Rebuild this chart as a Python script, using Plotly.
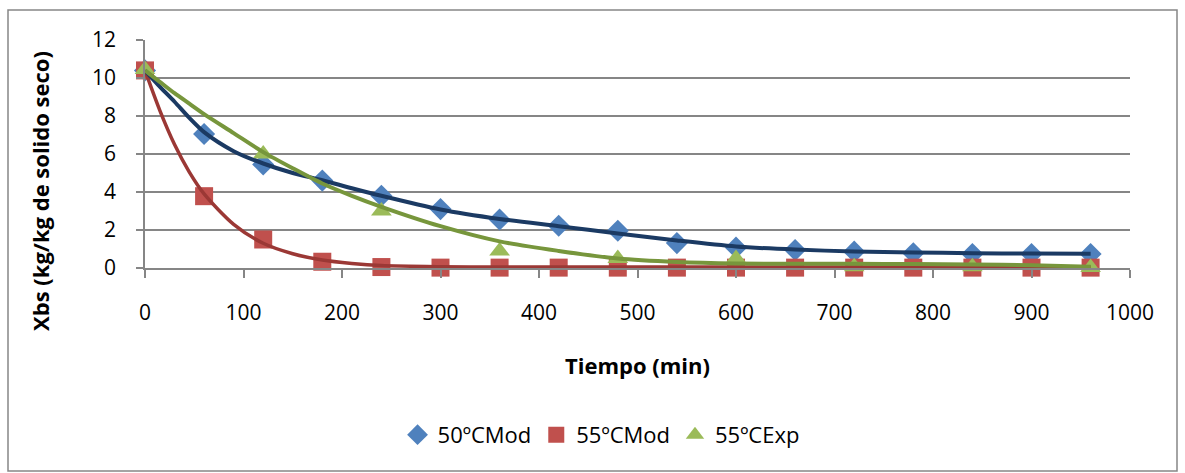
import plotly.graph_objects as go

# ---- data ----
t_pts = [0, 60, 120, 180, 240, 300, 360, 420, 480, 540, 600, 660, 720, 780, 840, 900, 960]
mod50_pts = [10.4, 7.05, 5.45, 4.6, 3.8, 3.1, 2.55, 2.22, 1.96, 1.31, 1.07, 0.95, 0.86, 0.78, 0.74, 0.74, 0.74]
mod55_pts = [10.4, 3.78, 1.5, 0.33, 0.05, 0.02, 0.02, 0.02, 0.02, 0.02, 0.02, 0.02, 0.02, 0.02, 0.02, 0.02, 0.02]
t_exp = [0, 120, 240, 360, 480, 600, 720, 840, 960]
exp55_pts = [10.45, 6.0, 3.0, 0.9, 0.5, 0.5, 0.06, 0.06, 0.02]

t_curve = [0, 15, 30, 45, 60, 90, 120, 150, 180, 210, 240, 300, 360, 420, 480, 540, 600, 660, 720, 780, 840, 900, 960]
mod50_curve = [10.4, 9.55, 8.75, 7.9, 7.15, 6.15, 5.5, 5.0, 4.62, 4.2, 3.8, 3.08, 2.58, 2.2, 1.82, 1.45, 1.13, 0.97, 0.87, 0.82, 0.78, 0.76, 0.75]
mod55_curve = [10.4, 8.3, 6.5, 5.05, 3.9, 2.3, 1.3, 0.75, 0.42, 0.24, 0.13, 0.07, 0.05, 0.05, 0.05, 0.05, 0.05, 0.05, 0.05, 0.05, 0.05, 0.05, 0.05]
exp55_curve = [10.4, 9.8, 9.2, 8.65, 8.1, 7.1, 6.1, 5.25, 4.45, 3.8, 3.22, 2.2, 1.4, 0.9, 0.5, 0.32, 0.24, 0.22, 0.22, 0.21, 0.19, 0.15, 0.07]

names = ["50ºCMod", "55ºCMod", "55ºCExp"]
x_ticks = [0, 100, 200, 300, 400, 500, 600, 700, 800, 900, 1000]
y_ticks = [0, 2, 4, 6, 8, 10, 12]

FONT = "Open Sans"
GRID = "#868686"

fig = go.Figure()

# markers
fig.add_trace(go.Scatter(x=t_pts, y=mod50_pts, mode="markers", name=names[0],
                         marker=dict(symbol="diamond", size=17, color="#4F81BD"), cliponaxis=False))
fig.add_trace(go.Scatter(x=t_pts, y=mod55_pts, mode="markers", name=names[1],
                         marker=dict(symbol="square", size=18, color="#C0504D"), cliponaxis=False))
fig.add_trace(go.Scatter(x=t_exp, y=exp55_pts, mode="markers", name=names[2],
                         marker=dict(symbol="triangle-up", size=18, color="#9BBB59"), cliponaxis=False))

# model curves
fig.add_trace(go.Scatter(x=t_curve, y=mod55_curve, mode="lines", showlegend=False,
                         line=dict(color="#9B3835", width=3.5, shape="spline", smoothing=0.8), cliponaxis=False))
fig.add_trace(go.Scatter(x=t_curve, y=mod50_curve, mode="lines", showlegend=False,
                         line=dict(color="#1B3A63", width=4, shape="spline", smoothing=0.8), cliponaxis=False))
fig.add_trace(go.Scatter(x=t_curve, y=exp55_curve, mode="lines", showlegend=False,
                         line=dict(color="#77963C", width=4, shape="spline", smoothing=0.8), cliponaxis=False))

fig.update_layout(
    width=1185, height=473,
    margin=dict(l=145, r=55, t=40, b=205),
    paper_bgcolor="white", plot_bgcolor="white",
    font=dict(family=FONT, size=21, color="black"),
    showlegend=True,
    legend=dict(orientation="h", x=0.463, xanchor="center", y=-0.732, yanchor="middle",
                font=dict(family=FONT, size=22), itemwidth=30, tracegroupgap=0),
    xaxis=dict(range=[0, 1000], tickvals=x_ticks, ticktext=[str(v) for v in x_ticks],
               showgrid=False, zeroline=False, showline=True, linecolor=GRID, linewidth=1.5,
               ticks="outside", ticklen=8, tickcolor=GRID, tickwidth=1.5,
               ticklabelstandoff=17, tickfont=dict(size=21)),
    yaxis=dict(range=[0, 12], tickvals=y_ticks, ticktext=[str(v) for v in y_ticks],
               showgrid=True, gridcolor=GRID, gridwidth=1.5, zeroline=False,
               showline=True, linecolor=GRID, linewidth=1.5,
               ticks="outside", ticklen=7, tickcolor=GRID, tickwidth=1.5,
               ticklabelstandoff=16, tickfont=dict(size=21)),
    annotations=[
        dict(text="<b>Tiempo (min)</b>", xref="paper", yref="paper", x=0.5005, y=-0.4254,
             showarrow=False, xanchor="center", yanchor="middle", font=dict(size=22)),
        dict(text="<b>Xbs (kg/kg de solido seco)</b>", xref="paper", yref="paper",
             x=-0.1066, y=0.338, textangle=-90, showarrow=False,
             xanchor="center", yanchor="middle", font=dict(size=22)),
    ],
    shapes=[dict(type="rect", xref="paper", yref="paper",
                 x0=(8 - 145) / 985, x1=(1177 - 145) / 985,
                 y0=(268 - 471) / 228, y1=(268 - 10) / 228,
                 line=dict(color=GRID, width=1.5), fillcolor="rgba(0,0,0,0)", layer="below")],
)

fig.write_html("out.html")
